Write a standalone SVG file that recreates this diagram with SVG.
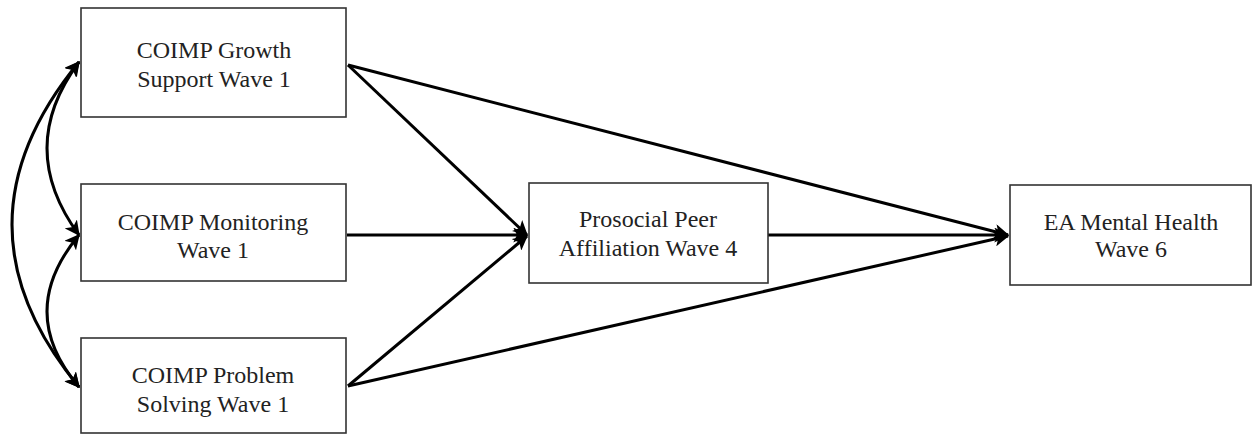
<svg xmlns="http://www.w3.org/2000/svg" width="1254" height="439" viewBox="0 0 1254 439">
<style>
.box{fill:#fff;stroke:#333;stroke-width:1.6}
.t{font-family:"Liberation Serif","Times New Roman",serif;font-size:24px;fill:#222;text-anchor:middle}
.c{fill:none;stroke:#000;stroke-width:3}
</style>
<defs>
<marker id="ah" viewBox="0 0 12 12" refX="11" refY="6" markerWidth="5" markerHeight="5" orient="auto-start-reverse" markerUnits="strokeWidth">
<path d="M0,0 L12,6 L0,12 L3,6 Z" fill="#000"/>
</marker>
</defs>
<rect width="1254" height="439" fill="#fff"/>
<g id="connectors">
<path class="c" d="M348,65 L527,235" marker-end="url(#ah)"/>
<path class="c" d="M347,235 L527,235" marker-end="url(#ah)"/>
<path class="c" d="M348,386 L527,236" marker-end="url(#ah)"/>
<path class="c" d="M348,65 L1008,235" marker-end="url(#ah)"/>
<path class="c" d="M768,235 L1008,235" marker-end="url(#ah)"/>
<path class="c" d="M348,386 L1008,236" marker-end="url(#ah)"/>
<path class="c" d="M79,62 Q15,148 79,235" marker-start="url(#ah)" marker-end="url(#ah)"/>
<path class="c" d="M79,235 Q15,312 79,387" marker-start="url(#ah)" marker-end="url(#ah)"/>
<path class="c" d="M79,62 Q-55,225 79,387" marker-start="url(#ah)" marker-end="url(#ah)"/>
</g>
<g id="n1"><rect class="box" x="81" y="8" width="265" height="109"/>
<text class="t" x="214" y="58">COIMP Growth</text><text class="t" x="214" y="87">Support Wave 1</text></g>
<g id="n2"><rect class="box" x="81" y="184" width="265" height="97"/>
<text class="t" x="213" y="230">COIMP Monitoring</text><text class="t" x="213" y="258">Wave 1</text></g>
<g id="n3"><rect class="box" x="81" y="338" width="265" height="95"/>
<text class="t" x="213" y="383">COIMP Problem</text><text class="t" x="213" y="412">Solving Wave 1</text></g>
<g id="n4"><rect class="box" x="529" y="183" width="239" height="100"/>
<text class="t" x="648" y="227">Prosocial Peer</text><text class="t" x="648" y="256">Affiliation Wave 4</text></g>
<g id="n5"><rect class="box" x="1010" y="185" width="241" height="100"/>
<text class="t" x="1131" y="230">EA Mental Health</text><text class="t" x="1131" y="257">Wave 6</text></g>
</svg>
